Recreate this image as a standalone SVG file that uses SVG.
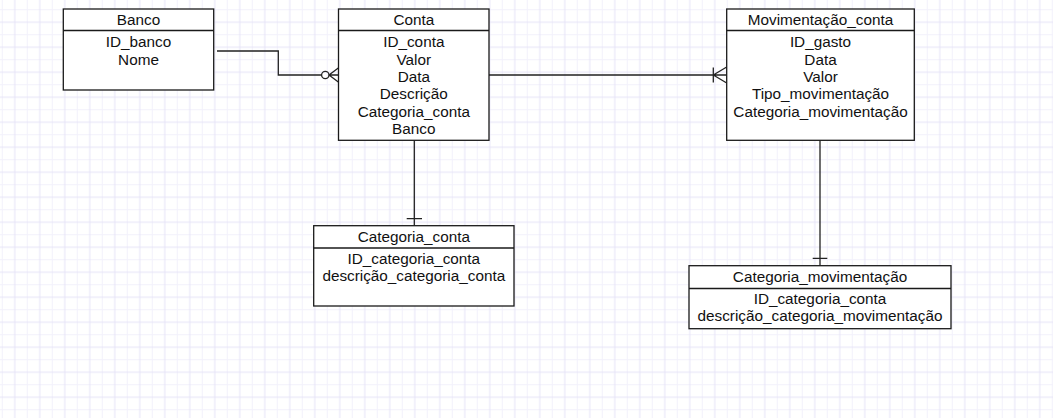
<svg xmlns="http://www.w3.org/2000/svg" width="1053" height="418" viewBox="0 0 1053 418">
<defs>
<pattern id="grid" patternUnits="userSpaceOnUse" x="1.8" y="9.2" width="25" height="25">
<rect width="25" height="25" fill="#ffffff"/>
<path d="M0.5 0V25M0 0.5H25" stroke="#f2f1fb" stroke-width="1" fill="none"/>
<path d="M13 0V25M0 13H25" stroke="#e6e4f8" stroke-width="1" fill="none"/>
</pattern>
<style>
.box{fill:#ffffff;stroke:#1a1a1a;stroke-width:1.3}
.div{stroke:#1a1a1a;stroke-width:1.3;fill:none}
.ln{stroke:#222222;stroke-width:1.3;fill:none}
text{font-family:"Liberation Sans",Arial,sans-serif;font-size:15.3px;fill:#111111;text-anchor:middle}
</style>
</defs>
<rect x="0" y="0" width="1053" height="418" fill="url(#grid)"/>
<g id="connectors">
<polyline class="ln" points="217,51 278.3,51 278.3,75 321.6,75"/>
<circle class="ln" cx="325.3" cy="75" r="3.7" fill="#ffffff"/>
<path class="ln" d="M329 75H338.3M329 75L338.3 68M329 75L338.3 82"/>
<path class="ln" d="M489 75H726.7M713.3 67.5V82.5M713.3 75L726.7 67M713.3 75L726.7 83"/>
<path class="ln" d="M414.3 140.3V225.7M406.7 218.7H422"/>
<path class="ln" d="M820 140.3V265.7M812.7 258.3H827.3"/>
</g>
<g id="banco">
<rect class="box" x="63.3" y="9" width="150.4" height="81"/>
<line class="div" x1="63.3" y1="30.5" x2="213.7" y2="30.5"/>
<text x="138.5" y="24.5">Banco</text>
<text x="138.5" y="47.3">ID_banco</text>
<text x="138.5" y="64.6">Nome</text>
</g>
<g id="conta">
<rect class="box" x="338.5" y="9" width="150.5" height="131.3"/>
<line class="div" x1="338.5" y1="30.5" x2="489" y2="30.5"/>
<text x="413.8" y="24.5">Conta</text>
<text x="413.8" y="47.3">ID_conta</text>
<text x="413.8" y="64.6">Valor</text>
<text x="413.8" y="82">Data</text>
<text x="413.8" y="99.3">Descrição</text>
<text x="413.8" y="116.6">Categoria_conta</text>
<text x="413.8" y="133.9">Banco</text>
</g>
<g id="movimentacao_conta">
<rect class="box" x="726.7" y="9" width="187.6" height="131.3"/>
<line class="div" x1="726.7" y1="30.5" x2="914.3" y2="30.5"/>
<text x="820.5" y="24.5">Movimentação_conta</text>
<text x="820.5" y="47.3">ID_gasto</text>
<text x="820.5" y="64.6">Data</text>
<text x="820.5" y="82">Valor</text>
<text x="820.5" y="99.3">Tipo_movimentação</text>
<text x="820.5" y="116.6">Categoria_movimentação</text>
</g>
<g id="categoria_conta">
<rect class="box" x="313.7" y="225.7" width="200.3" height="80.3"/>
<line class="div" x1="313.7" y1="248" x2="514" y2="248"/>
<text x="413.8" y="242">Categoria_conta</text>
<text x="413.8" y="264.3">ID_categoria_conta</text>
<text x="413.8" y="281">descrição_categoria_conta</text>
</g>
<g id="categoria_movimentacao">
<rect class="box" x="689" y="265.7" width="262" height="63"/>
<line class="div" x1="689" y1="288.5" x2="951" y2="288.5"/>
<text x="820" y="282">Categoria_movimentação</text>
<text x="820" y="304.3">ID_categoria_conta</text>
<text x="820" y="321">descrição_categoria_movimentação</text>
</g>
</svg>
